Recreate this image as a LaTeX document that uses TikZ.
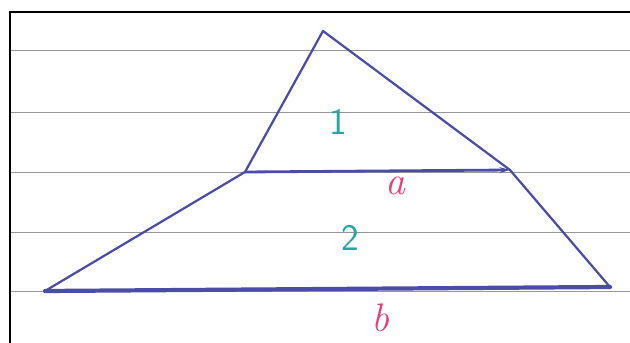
\documentclass[tikz,border=0pt]{standalone}
\usepackage{tikz}
\usepackage{xcolor}
\usetikzlibrary{arrows.meta}

\definecolor{pen}{RGB}{74,76,168}
\definecolor{rule}{RGB}{150,150,155}
\definecolor{teal1}{RGB}{40,165,160}
\definecolor{pink1}{RGB}{232,64,122}

\begin{document}
\begin{tikzpicture}[x=0.03cm,y=-0.03cm,
  ruleline/.style={rule,line width=0.8pt},
  penline/.style={pen,line width=1.9pt,line join=round,line cap=round},
  numlabel/.style={teal1,font=\sffamily\fontsize{32}{32}\selectfont},
  sidelabel/.style={pink1,font=\itshape\fontsize{34}{34}\selectfont}]
  \useasboundingbox (0,0) rectangle (630,343);
  % ruled paper
  \foreach \y in {50,112,172,232,291}
    \draw[ruleline] (10,\y)--(630,\y);
  \draw[line width=1.6pt] (630,12)--(10,12)--(10,343);
  % triangle
  \coordinate (A) at (323,31);
  \coordinate (L) at (245,172);
  \coordinate (R) at (510,170);
  \coordinate (BL) at (45,291);
  \coordinate (BR) at (610,287);
  \draw[penline] (BL)--(L)--(A)--(R)--(BR);
  \draw[penline,line width=2.4pt,-{Stealth[length=9pt,width=5pt]}] (L)--(R);
  \draw[penline,line width=3.6pt] (BL)--(BR);
  \node[numlabel] (n1) at (338,122) {1};
  \node[sidelabel] (la) at (395,186) {a};
  \node[numlabel] (n2) at (350,238) {2};
  \node[sidelabel] (lb) at (380,318) {b};
\end{tikzpicture}
\end{document}
